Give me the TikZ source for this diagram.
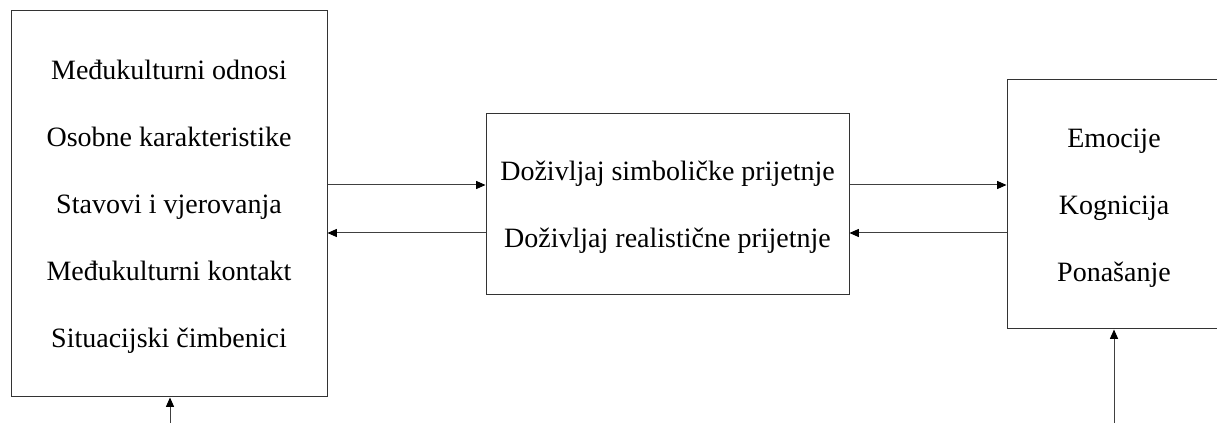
\documentclass[tikz,border=0pt]{standalone}
\usepackage{fontspec}
\newfontfamily\tnrfont{LiberationSerif}[Extension=.ttf,UprightFont=*-Regular,BoldFont=*-Bold]
\usetikzlibrary{arrows.meta}
\begin{document}
\begin{tikzpicture}[x=0.75pt,y=-0.75pt,
  box/.style={draw=black!80,line width=0.75pt,inner sep=0pt},
  lbl/.style={anchor=base,inner sep=0pt,font=\tnrfont\fontsize{21}{25}\selectfont},
  arr/.style={draw=black!75,line width=0.75pt,-{Triangle[length=7pt,width=6pt,color=black,fill=black]}}]
\useasboundingbox (0,0) rectangle (1217,423);
\fill[white] (0,0) rectangle (1217,423);
% boxes
\node[box,minimum width=237pt,minimum height=289.5pt] (L) at (169,204) {};
\node[box,minimum width=272.25pt,minimum height=135.75pt] (M) at (667.5,204.5) {};
\node[box,minimum width=160.5pt,minimum height=186.75pt] (R) at (1114,204.5) {};
% left texts
\node[lbl] (l1) at (169,80) {Međukulturni odnosi};
\node[lbl] (l2) at (169,147) {Osobne karakteristike};
\node[lbl] (l3) at (169,214) {Stavovi i vjerovanja};
\node[lbl] (l4) at (169,281) {Međukulturni kontakt};
\node[lbl] (l5) at (169,348) {Situacijski čimbenici};
% middle texts
\node[lbl] (m1) at (667.5,181) {Doživljaj simboličke prijetnje};
\node[lbl] (m2) at (667.5,248) {Doživljaj realistične prijetnje};
% right texts
\node[lbl] (r1) at (1114,148) {Emocije};
\node[lbl] (r2) at (1114,215) {Kognicija};
\node[lbl] (r3) at (1114,282) {Ponašanje};
% connector levels
\coordinate (up) at (0,185);
\coordinate (dn) at (0,233);
\coordinate (bl) at (170,423);
\coordinate (br) at (1114,423);
\draw[arr] (L.east |- up) -- (M.west |- up);
\draw[arr] (M.west |- dn) -- (L.east |- dn);
\draw[arr] (M.east |- up) -- (R.west |- up);
\draw[arr] (R.west |- dn) -- (M.east |- dn);
\draw[arr] (bl) -- (bl |- L.south);
\draw[arr] (br) -- (br |- R.south);
\end{tikzpicture}
\end{document}
